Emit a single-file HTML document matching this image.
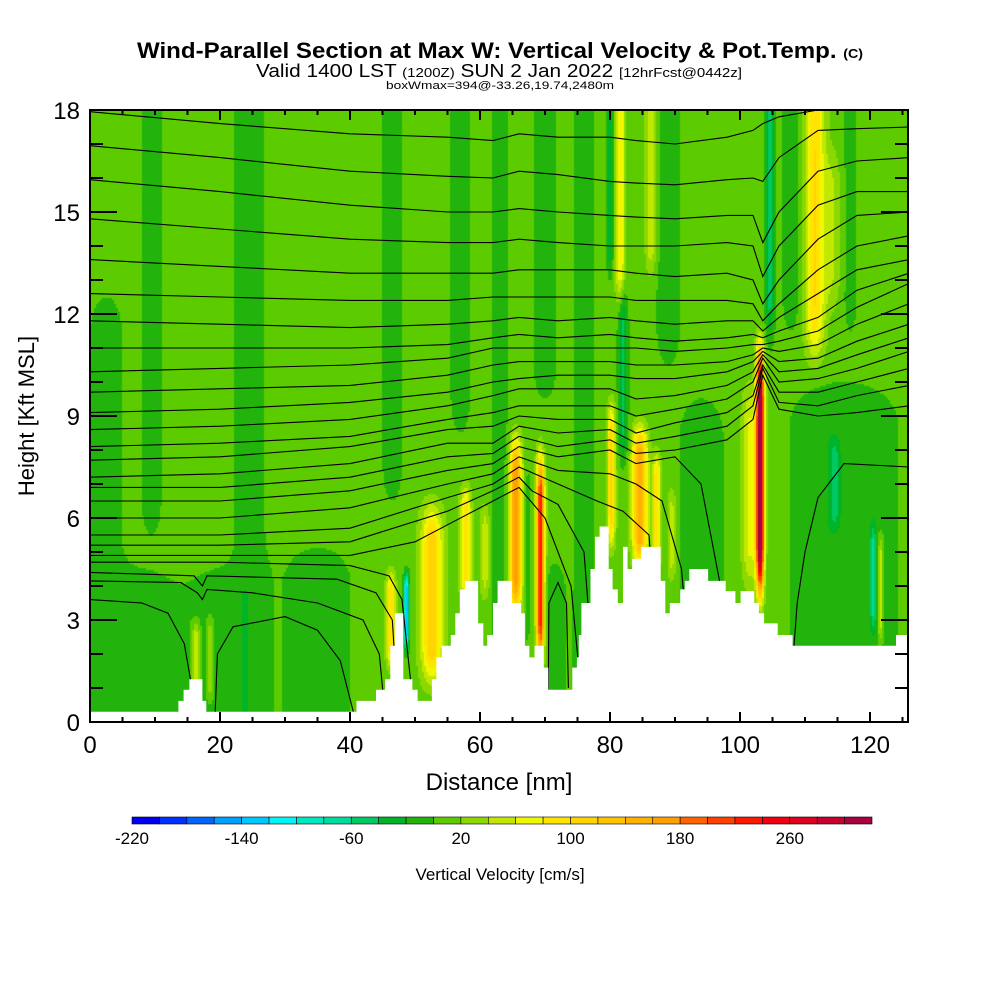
<!DOCTYPE html>
<html><head><meta charset="utf-8">
<style>
html,body{margin:0;padding:0;background:#fff;}
#wrap{position:relative;width:1000px;height:1000px;overflow:hidden;font-family:"Liberation Sans",sans-serif;}
#field{position:absolute;left:90px;top:110px;}
#svg{position:absolute;left:0;top:0;}
</style></head>
<body>
<div id="wrap">
<canvas id="field" width="818" height="612"></canvas>
<svg id="svg" width="1000" height="1000" xmlns="http://www.w3.org/2000/svg">
  <g id="iso"></g>
  <polygon id="terrain" fill="#fff"></polygon>
  <g id="ticks"></g>
  <rect x="90" y="110" width="818" height="612" fill="none" stroke="#000" stroke-width="2"></rect>
  <g id="ylabels" font-size="24" text-anchor="end"></g>
  <g id="xlabels" font-size="24" text-anchor="middle"></g>
  <text x="500" y="58" text-anchor="middle" font-size="22" font-weight="bold" textLength="726" lengthAdjust="spacingAndGlyphs">Wind-Parallel Section at Max W: Vertical Velocity &amp; Pot.Temp. <tspan font-size="13">(C)</tspan></text>
  <text x="499" y="77" text-anchor="middle" font-size="18" textLength="486" lengthAdjust="spacingAndGlyphs">Valid 1400 LST <tspan font-size="13">(1200Z)</tspan> SUN 2 Jan 2022 <tspan font-size="13">[12hrFcst@0442z]</tspan></text>
  <text x="500" y="89" text-anchor="middle" font-size="11" textLength="228" lengthAdjust="spacingAndGlyphs">boxWmax=394@-33.26,19.74,2480m</text>
  <text x="34" y="416" text-anchor="middle" font-size="22" transform="rotate(-90 34 416)">Height [Kft MSL]</text>
  <text x="499" y="790" text-anchor="middle" font-size="24">Distance [nm]</text>
  <g id="colorbar"></g>
  <g id="cblabels" font-size="17" text-anchor="middle"></g>
  <text x="500" y="880" text-anchor="middle" font-size="17">Vertical Velocity [cm/s]</text>
</svg>
</div>
<script>
const cbColors = ['#0000f0','#0030ff','#0064ff','#00a0ff','#00c8ff','#00f4f4','#00e8c0','#00dc9c','#00c864','#00b428','#22b40c','#5ccc00','#8cd800','#c0e800','#f0f800','#ffe400','#ffd400','#ffc400','#ffb000','#ffa000','#ff6400','#ff4000','#ff1800','#f00010','#e00020','#c80030','#a80040'];
const cbTickValues = [-220,-140,-60,20,100,180,260];
const cbTickLabels = ['-220','-140','-60','20','100','180','260'];
const yTickValues = [0,3,6,9,12,15,18];
const xTickValues = [0,20,40,60,80,100,120];

const terrainStartNm = [0,13.6,14.4,15.3,17.3,17.9,41,44,45.4,46.2,46.9,48.2,49.6,50.4,52.6,53.3,54.1,55.5,56.2,56.9,57.7,59.7,60.5,61.1,62,62.7,64.9,66.3,66.9,67.6,68.4,69.8,70.5,74.2,74.9,75.2,75.6,77,77.7,78.4,79.8,80.4,81.2,82,82.7,83.4,84.8,87.8,88.5,89.2,90.8,91.5,92.2,95.1,97.8,99.3,100.1,102.2,102.9,103.7,105.8,108.1,124];
const terrainHeightKft = [0.3,0.62,0.95,1.26,0.62,0.3,0.62,0.95,1.26,2.24,3.2,1.26,0.95,0.62,1.26,1.9,2.24,2.56,3.2,3.9,4.15,2.9,2.24,2.56,3.5,4.15,3.5,3.2,2.24,1.9,2.24,1.6,0.95,1.6,1.9,2.56,3.5,4.5,5.45,5.75,4.5,3.9,3.5,5.15,4.5,4.8,5.15,4.15,3.2,3.5,3.9,4.15,4.5,4.15,3.85,3.5,3.85,3.5,3.2,2.9,2.56,2.24,2.56];

// velocity features (nm, half-width nm, bottom kft, top kft, amplitude cm/s)
const coreX      = [2.5,9.5,24.5,35,8,20,46.5,57,63,71.5,76,94,116,108,89,70,117,114.5,120.5, 16.3,18.5,46.3,48.7,52.6,57.8,60.8,65.5,69.3,67.3,80.2,84.6,87.2,89.5,82,80,81.6,86.3,103.1,101.5,104.6,111.5,114,121.6];
const coreWidth  = [3,1.8,2.8,6,6,5,1.8,1.8,1.5,1.8,1.8,4,10,1.8,2.2,2.2,1.2,0.9,0.5, 0.6,0.6,0.7,0.4,1.6,0.8,0.7,0.9,0.6,0.5,0.6,1.1,0.6,0.7,0.7,0.5,0.7,0.8,0.6,1.2,0.7,1.5,1.4,0.4];
const coreBottom = [0,5,0,0,0,0,6,8,0,0,0,0,0,11,10,9,11,5.5,2.5, 0.8,0.5,1.5,2,1,3.5,3.5,3,1.5,2,5,4.5,4.5,4,7.5,13,12,13,3.5,3.8,11,10.5,12,2.3];
const coreTop    = [13,18,18,5.5,4.8,4.8,18,18,18,5,18,10,10.5,18,18,18,18,8.5,6, 3,3.2,4.5,4.5,6.5,7,6.5,8.5,8,8,9.5,8.8,8,7,13,18,18,18,11.2,10,18,18,17,5.5];
const coreAmp    = [-20,-20,-20,-20,-20,-20,-20,-20,-20,-20,-20,-20,-20,-20,-20,-20,-20,-40,-60, 60,40,90,-140,110,90,40,170,230,-20,100,150,90,40,-60,-50,70,50,330,60,-60,90,30,60];
const baseVelocity = 10;

const isoX = [0,20,40,55,62,66,72,80,84,90,98,102,103.5,106,112,118,126];
const iso1  = [17.95,17.6,17.3,17.2,17.1,17.3,17.2,17.2,17.1,17.0,17.2,17.4,17.6,17.8,18.0,18.0,18.0];
const iso2  = [16.95,16.6,16.2,16.05,16.0,16.2,16.1,15.9,15.85,15.8,15.95,16.0,15.9,16.6,17.4,17.45,17.5];
const iso3  = [15.95,15.6,15.2,15.0,15.0,15.1,15.0,14.9,14.85,14.8,14.9,14.9,14.1,15.0,16.2,16.5,16.6];
const iso4  = [14.8,14.5,14.2,14.1,14.1,14.2,14.1,14.0,14.0,14.0,14.1,14.0,13.1,14.0,15.2,15.6,15.6];
const iso5  = [13.6,13.4,13.2,13.2,13.2,13.3,13.3,13.3,13.2,13.1,13.2,13.0,12.3,13.0,14.2,14.9,15.0];
const iso6  = [12.6,12.5,12.4,12.4,12.5,12.5,12.5,12.5,12.4,12.4,12.4,12.3,11.8,12.3,13.3,14.0,14.3];
const iso7  = [11.8,11.7,11.6,11.7,11.8,11.9,11.8,11.9,11.8,11.7,11.8,11.8,11.5,11.9,12.6,13.3,13.6];
const iso8  = [11.0,11.0,11.0,11.1,11.3,11.4,11.3,11.4,11.3,11.2,11.3,11.4,11.3,11.5,11.9,12.7,13.2];
const iso9  = [10.3,10.4,10.5,10.7,11.0,11.0,11.0,11.0,11.0,10.9,11.0,11.1,11.1,11.2,11.5,12.2,12.9];
const iso10 = [9.7,9.8,9.9,10.2,10.5,10.6,10.6,10.6,10.5,10.5,10.6,10.8,11.0,10.9,11.1,11.7,12.3];
const iso11 = [9.1,9.2,9.4,9.7,10.0,10.1,10.2,10.2,10.1,10.1,10.3,10.6,10.9,10.6,10.7,11.2,11.7];
const iso12 = [8.6,8.7,8.9,9.3,9.6,9.8,9.8,9.8,9.5,9.6,9.9,10.3,10.8,10.3,10.4,10.8,11.3];
const iso13 = [8.1,8.2,8.4,8.9,9.1,9.3,9.3,9.3,9.0,9.2,9.5,10.0,10.7,10.0,10.1,10.4,10.9];
const iso14 = [7.7,7.8,8.1,8.6,8.7,9.0,8.9,8.9,8.5,8.8,9.1,9.6,10.5,9.7,9.7,10.0,10.4];
const iso15 = [7.2,7.3,7.6,8.2,8.2,8.7,8.5,8.6,8.2,8.4,8.7,9.3,10.4,9.4,9.3,9.6,9.9];
const iso16 = [6.9,6.9,7.2,7.8,7.9,8.4,8.1,8.3,7.9,8.0,8.3,8.9,10.2,9.2,9.0,9.1,9.3];
const isoLevels = [iso1,iso2,iso3,iso4,iso5,iso6,iso7,iso8,iso9,iso10,iso11,iso12,iso13,iso14,iso15,iso16];

const contourLow = [
 [[0,6.5],[20,6.5],[40,6.8],[55,7.4],[62,7.6],[66,8.1],[72,7.8],[80,8.0],[84,7.6],[90,7.8],[94,7.0],[97,4.0],[99,0]],
 [[0,6.0],[20,6.0],[40,6.3],[55,7.0],[62,7.3],[66,7.8],[72,7.4],[80,7.3],[84,7.0],[88,6.5],[91,4.5],[93,0]],
 [[0,5.5],[20,5.5],[40,5.7],[55,6.6],[62,7.0],[66,7.5],[72,7.0],[78,6.5],[82,6.2],[86,5.5],[88,0]],
 [[0,5.2],[20,5.2],[40,5.3],[55,6.2],[62,6.8],[66,7.2],[68,6.8],[72,6.4],[76,5.0],[78,0]],
 [[0,4.9],[20,4.9],[40,4.9],[50,5.3],[55,5.8],[62,6.5],[66,6.9],[70,6.0],[74,4.0],[76,0]],
 [[0,4.7],[20,4.7],[40,4.6],[46,4.3],[48,3.6],[50,0]],
 [[0,4.4],[16,4.3],[17.3,4.0],[18,4.3],[38,4.2],[44,3.8],[46.5,3.0],[47.5,0]],
 [[0,4.15],[14,4.1],[16.5,3.8],[17.3,3.6],[18,3.9],[25,3.8],[35,3.5],[42,3.0],[44.5,2.0],[45.5,0]],
 [[0,3.6],[8,3.5],[12,3.2],[14.5,2.3],[15.5,1.2],[16,0]],
 [[19.2,0],[19.6,2.0],[22,2.8],[30,3.1],[35,2.7],[38.5,1.8],[40.5,0.3]],
 [[126,7.5],[116,7.6],[112,6.6],[110,5.0],[108.8,3.5],[108.3,2.2]],
 [[70.5,0.95],[70.6,3.5],[72,4.1],[73.3,3.5],[73.6,1.0]]
];

const X0 = 90, Y0 = 722, PXNM = 6.5, PXK = 34;
function xScale(nm){ return X0 + nm*PXNM; }
function yScale(h){ return Y0 - h*PXK; }
const NS = 'http://www.w3.org/2000/svg';

// ---- field
(function(){
  const cv = document.getElementById('field');
  const ctx = cv.getContext('2d');
  const step = 2;
  function ss(v){ v = v<0?0:(v>1?1:v); return v*v*(3-2*v); }
  for (let py=0; py<612; py+=step){
    const h = (612 - (py+1))/PXK;
    for (let px=0; px<818; px+=step){
      const x = (px+1)/PXNM;
      let v = baseVelocity;
      for (let i=0;i<coreX.length;i++){
        const dx = (x-coreX[i])/coreWidth[i];
        if (dx>3||dx<-3) continue;
        const span = coreTop[i]-coreBottom[i];
        const tp = Math.max(0.8, Math.min(2.5, 0.35*span));
        const tb = coreBottom[i]<=0.01 ? 1 : ss((h-coreBottom[i]+0.3*tp)/tp);
        const tt = coreTop[i]>=17.99 ? 1 : ss((coreTop[i]-h+0.3*tp)/tp);
        const t = tb*tt;
        if (t<=0) continue;
        v += coreAmp[i]*Math.exp(-dx*dx)*t;
      }
      let idx = Math.floor((v+220)/20);
      if (idx<0) idx=0; if (idx>26) idx=26;
      ctx.fillStyle = cbColors[idx];
      ctx.fillRect(px,py,step,step);
    }
  }
})();

// ---- isentropes
const isoG = document.getElementById('iso');
function addLine(pts, i){
  const pl = document.createElementNS(NS,'polyline');
  pl.setAttribute('points', pts.map(p=>xScale(p[0]).toFixed(1)+','+yScale(p[1]).toFixed(1)).join(' '));
  pl.setAttribute('fill','none');
  pl.setAttribute('stroke','#000');
  pl.setAttribute('stroke-width','1.1');
  
  
  isoG.appendChild(pl);
}
isoLevels.forEach((lv,i)=>{ addLine(isoX.map((x,j)=>[x,lv[j]]), i+1); });
contourLow.forEach((c,i)=>{ addLine(c, isoLevels.length+i+1); });

// ---- terrain
(function(){
  const pts = [[xScale(0), yScale(0)]];
  for (let i=0;i<terrainStartNm.length;i++){
    const x1 = xScale(terrainStartNm[i]);
    const x2 = xScale(i+1<terrainStartNm.length ? terrainStartNm[i+1] : 126);
    const y = yScale(terrainHeightKft[i]);
    pts.push([x1,y]); pts.push([x2,y]);
  }
  pts.push([xScale(126), yScale(0)]);
  document.getElementById('terrain').setAttribute('points', pts.map(p=>p[0].toFixed(1)+','+p[1].toFixed(1)).join(' '));
})();

// ---- ticks
(function(){
  const g = document.getElementById('ticks');
  function ln(x1,y1,x2,y2,nm){
    const l = document.createElementNS(NS,'line');
    l.setAttribute('x1',x1); l.setAttribute('y1',y1); l.setAttribute('x2',x2); l.setAttribute('y2',y2);
    l.setAttribute('stroke','#000'); l.setAttribute('stroke-width','2');
    
    
    g.appendChild(l);
  }
  for (let h=0; h<=18; h++){
    const y = yScale(h), L = (h%3===0)?27:13;
    ln(90,y,90+L,y,'y-tick-left');
    ln(908,y,908-L,y,'y-tick-right');
  }
  for (let d=0; d<=125; d+=5){
    const x = xScale(d), L = (d%20===0)?10:5;
    ln(x,722,x,722-L,'x-tick-bottom');
    ln(x,110,x,110+L,'x-tick-top');
  }
  const yl = document.getElementById('ylabels');
  yTickValues.forEach(v=>{
    const t = document.createElementNS(NS,'text');
    t.setAttribute('x',80); t.setAttribute('y',yScale(v)+9);
    t.textContent = String(v);
    
    
    yl.appendChild(t);
  });
  const xl = document.getElementById('xlabels');
  xTickValues.forEach(v=>{
    const t = document.createElementNS(NS,'text');
    t.setAttribute('x',xScale(v)); t.setAttribute('y',753);
    t.textContent = String(v);
    
    
    xl.appendChild(t);
  });
})();

// ---- colorbar
(function(){
  const g = document.getElementById('colorbar');
  const x0 = 132, w = 740/cbColors.length;
  cbColors.forEach((c,i)=>{
    const r = document.createElementNS(NS,'rect');
    r.setAttribute('x',(x0+i*w).toFixed(2)); r.setAttribute('y',817);
    r.setAttribute('width',w.toFixed(2)); r.setAttribute('height',7);
    r.setAttribute('fill',c); r.setAttribute('stroke','#000'); r.setAttribute('stroke-width','0.6');
    
    
    g.appendChild(r);
  });
  const lg = document.getElementById('cblabels');
  cbTickValues.forEach((v,i)=>{
    const t = document.createElementNS(NS,'text');
    t.setAttribute('x',(x0+(v+220)/20*w).toFixed(1)); t.setAttribute('y',844);
    t.textContent = cbTickLabels[i];
    
    
    lg.appendChild(t);
  });
})();
</script>
</body></html>
